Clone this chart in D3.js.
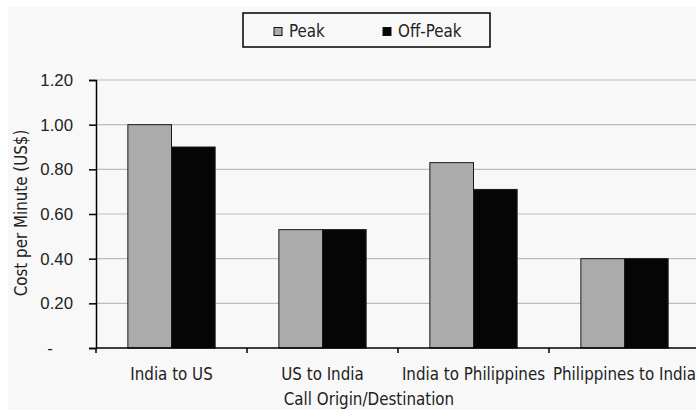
<!DOCTYPE html>
<html>
<head>
<meta charset="utf-8">
<script src="https://cdn.jsdelivr.net/npm/d3@7"></script>
<style>
  html, body { margin: 0; padding: 0; background: #ffffff; overflow: hidden; }
  svg { display: block; font-family: "DejaVu Sans Condensed", "DejaVu Sans", sans-serif; font-stretch: condensed; }
</style>
</head>
<body>
<svg id="chart" width="696" height="410"></svg>
<script>
// Call cost per minute by route
const categories = ["India to US", "US to India", "India to Philippines", "Philippines to India"];
const seriesNames = ["Peak", "Off-Peak"];
const peakValues = [1.00, 0.53, 0.83, 0.40];
const offPeakValues = [0.90, 0.53, 0.71, 0.40];
const yTicks = [0, 0.2, 0.4, 0.6, 0.8, 1.0, 1.2];
const yTickLabels = ["-", "0.20", "0.40", "0.60", "0.80", "1.00", "1.20"];

const colors = { "Peak": "#ababab", "Off-Peak": "#050505" };
const FS = 16.8;

const svg = d3.select("#chart");
const plot = { left: 96, right: 700, top: 80, bottom: 348 };

// Chart area background
svg.append("rect").attr("x", 8).attr("y", 7).attr("width", 700).attr("height", 410).attr("fill", "#f8f8f8");

const x = d3.scaleBand().domain(categories).range([plot.left, plot.right]).paddingInner(0).paddingOuter(0);
const inner = d3.scaleBand().domain(seriesNames).range([0, x.bandwidth()]).paddingInner(0).paddingOuter(0.73);
const y = d3.scaleLinear().domain([0, 1.2]).range([plot.bottom, plot.top]);

// Horizontal gridlines
svg.append("g")
  .selectAll("line")
  .data(yTicks.filter(d => d > 0))
  .join("line")
  .attr("x1", plot.left).attr("x2", plot.right)
  .attr("y1", d => y(d)).attr("y2", d => y(d))
  .attr("stroke", "#bdbdbd").attr("stroke-width", 1.2);

// Bars
const rows = categories.map((c, i) => ({ cat: c, vals: [
  { s: "Peak", v: peakValues[i] },
  { s: "Off-Peak", v: offPeakValues[i] }
]}));

const groups = svg.append("g").selectAll("g")
  .data(rows).join("g")
  .attr("transform", d => `translate(${x(d.cat)},0)`);

groups.selectAll("rect")
  .data(d => d.vals).join("rect")
  .attr("x", d => inner(d.s))
  .attr("width", inner.bandwidth())
  .attr("y", d => y(d.v))
  .attr("height", d => y(0) - y(d.v))
  .attr("fill", d => colors[d.s])
  .attr("stroke", "#1a1a1a").attr("stroke-width", 1);

// Y axis
const yAxis = d3.axisLeft(y).tickValues(yTicks)
  .tickFormat((d, i) => yTickLabels[i]).tickSize(7).tickPadding(16);
const gy = svg.append("g").attr("transform", `translate(${plot.left},0)`).call(yAxis);
gy.select(".domain").attr("stroke", "#000").attr("stroke-width", 1.5);
gy.selectAll(".tick line").attr("stroke", "#000").attr("stroke-width", 1.5);
gy.selectAll(".tick text").attr("font-size", FS).attr("fill", "#222");
// zero label sits in the accounting-format dash position
gy.selectAll(".tick text").filter(d => d === 0).attr("x", -46).attr("text-anchor", "middle");

// X axis (ticks at category boundaries)
svg.append("line")
  .attr("x1", plot.left).attr("x2", plot.right)
  .attr("y1", plot.bottom).attr("y2", plot.bottom)
  .attr("stroke", "#000").attr("stroke-width", 1.5);
const boundaries = categories.map(c => x(c));
svg.append("g").selectAll("line").data(boundaries).join("line")
  .attr("x1", d => d).attr("x2", d => d)
  .attr("y1", plot.bottom).attr("y2", plot.bottom + 5)
  .attr("stroke", "#000").attr("stroke-width", 1.5);

svg.append("g").selectAll("text").data(categories).join("text")
  .attr("x", d => x(d) + x.bandwidth() / 2)
  .attr("y", 380)
  .attr("text-anchor", "middle")
  .attr("font-size", FS)
  .attr("fill", "#222")
  .text(d => d);

// Axis titles
svg.append("text")
  .attr("x", 369).attr("y", 405)
  .attr("text-anchor", "middle").attr("font-size", FS).attr("fill", "#222")
  .text("Call Origin/Destination");

svg.append("text")
  .attr("transform", "translate(27,213) rotate(-90)")
  .attr("text-anchor", "middle").attr("font-size", FS).attr("fill", "#222")
  .text("Cost per Minute (US$)");

// Legend
const legend = svg.append("g");
legend.append("rect")
  .attr("x", 243).attr("y", 13).attr("width", 247).attr("height", 34)
  .attr("fill", "#f8f8f8").attr("stroke", "#000").attr("stroke-width", 1.5);
const legendItems = [
  { s: "Peak", sx: 274, tx: 289 },
  { s: "Off-Peak", sx: 383, tx: 398 }
];
legendItems.forEach(it => {
  legend.append("rect")
    .attr("x", it.sx).attr("y", 27.5).attr("width", 8).attr("height", 8)
    .attr("fill", colors[it.s]).attr("stroke", "#111").attr("stroke-width", 1);
  legend.append("text")
    .attr("x", it.tx).attr("y", 37)
    .attr("font-size", FS).attr("fill", "#222")
    .text(it.s);
});
</script>
</body>
</html>
